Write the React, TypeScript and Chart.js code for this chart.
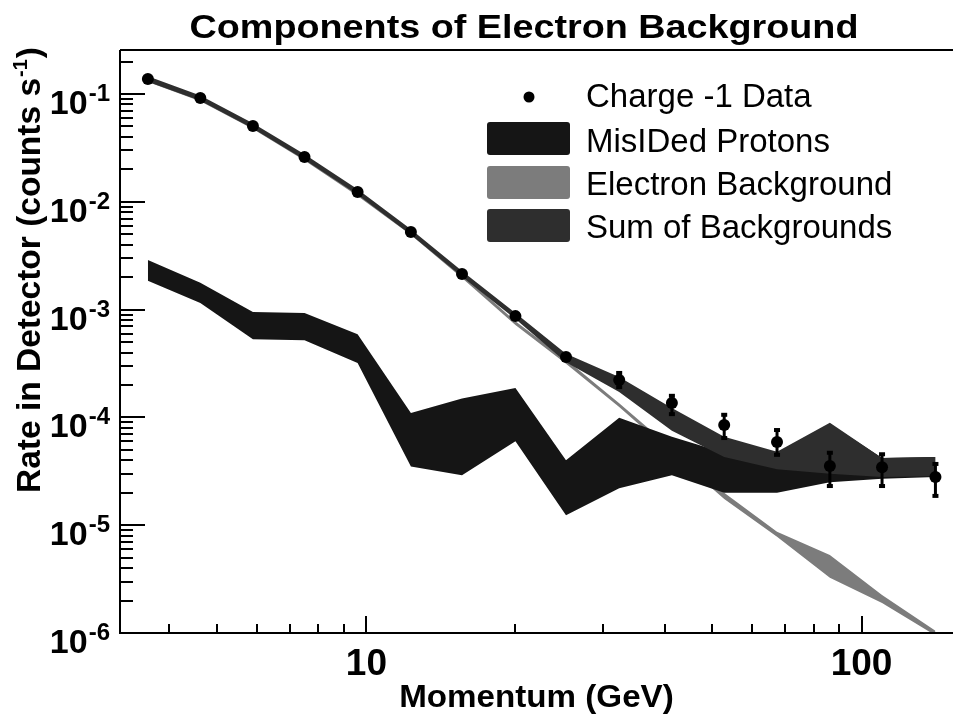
import React, { useEffect, useRef } from "react";
import { Chart, registerables } from "chart.js";

Chart.register(...registerables);

// Momentum bins (GeV)
const MOMENTUM = [3.62, 4.62, 5.9, 7.5, 9.6, 12.3, 15.6, 20.0, 25.3, 32.4, 41.4, 52.8, 67.5, 86.3, 110, 141];

// Charge -1 data (counts/s) and error range
const DATA_RATE = [0.138, 0.0918, 0.0505, 0.026, 0.0123, 0.00525, 0.00214, 8.7e-4, 3.63e-4, 2.22e-4, 1.36e-4, 8.5e-5, 5.9e-5, 3.55e-5, 3.45e-5, 2.8e-5];
const DATA_ERR_LO = [0.134, 0.089, 0.049, 0.0252, 0.0119, 0.0051, 0.00207, 8.3e-4, 3.3e-4, 1.87e-4, 1.05e-4, 6.3e-5, 4.4e-5, 2.26e-5, 2.26e-5, 1.83e-5];
const DATA_ERR_HI = [0.142, 0.0945, 0.052, 0.0268, 0.0127, 0.0054, 0.00222, 9.2e-4, 4.0e-4, 2.64e-4, 1.62e-4, 1.08e-4, 7.8e-5, 4.8e-5, 4.65e-5, 3.78e-5];

// MisIDed protons band
const PROTON_LO = [1.85e-3, 1.15e-3, 5.3e-4, 5.2e-4, 3.2e-4, 3.5e-5, 2.9e-5, 6.0e-5, 1.24e-5, 2.2e-5, 2.9e-5, 2.0e-5, 2.0e-5, 2.5e-5, 2.7e-5, 2.8e-5];
const PROTON_HI = [2.88e-3, 1.77e-3, 9.5e-4, 9.3e-4, 5.9e-4, 1.1e-4, 1.5e-4, 1.87e-4, 4.0e-5, 9.9e-5, 6.6e-5, 4.7e-5, 4.5e-5, 8.7e-5, 4.2e-5, 4.3e-5];

// Electron background band
const ELECTRON_LO = [0.129, 0.0858, 0.0474, 0.0242, 0.0113, 0.00493, 0.00196, 7.2e-4, 3.15e-4, 1.25e-4, 4.65e-5, 1.75e-5, 7.8e-6, 3.25e-6, 1.9e-6, 0.95e-6];
const ELECTRON_HI = [0.141, 0.0945, 0.052, 0.0265, 0.0124, 0.0054, 0.00214, 7.8e-4, 3.45e-4, 1.35e-4, 5.15e-5, 2.0e-5, 8.7e-6, 5.3e-6, 2.25e-6, 1.05e-6];

// Sum of backgrounds band
const SUM_LO = [0.130, 0.0865, 0.0478, 0.0246, 0.0116, 0.00495, 0.00202, 8.2e-4, 3.25e-4, 1.72e-4, 7.5e-5, 4.3e-5, 3.3e-5, 3.0e-5, 2.8e-5, 2.85e-5];
const SUM_HI = [0.146, 0.097, 0.0535, 0.0276, 0.0131, 0.00555, 0.00228, 9.3e-4, 3.9e-4, 2.37e-4, 1.22e-4, 6.6e-5, 4.8e-5, 8.9e-5, 4.2e-5, 4.3e-5];

// Axis labels
const X_TICK_LABELS = [10, 100];
const Y_TICK_EXPONENTS = [-6, -5, -4, -3, -2, -1];
const LEGEND_LABELS = ["Charge -1 Data", "MisIDed Protons", "Electron Background", "Sum of Backgrounds"];
const TITLE = "Components of Electron Background";
const X_TITLE = "Momentum (GeV)";
const Y_TITLE_MAIN = "Rate in Detector (counts s";
const Y_TITLE_SUP = "-1";
const Y_TITLE_END = ")";

const C_PROTON = "#151515";
const C_ELECTRON = "#7c7c7c";
const C_SUM = "#2e2e2e";
const FONT = "'Liberation Sans', Arial, Helvetica, sans-serif";

const pts = (ys: number[]) => MOMENTUM.map((x, i) => ({ x, y: ys[i] }));

function drawText(ctx: CanvasRenderingContext2D, text: string, x: number, y: number, font: string, align: string, sx = 1) {
  ctx.save();
  ctx.font = font;
  ctx.textBaseline = "alphabetic";
  ctx.textAlign = "left";
  const w = ctx.measureText(text).width * sx;
  const left = align === "center" ? x - w / 2 : align === "right" ? x - w : x;
  ctx.translate(left, y);
  ctx.scale(sx, 1);
  ctx.fillText(text, 0, 0);
  ctx.restore();
  return w;
}

const decorPlugin = {
  id: "decor",
  afterDatasetsDraw(chart: any) {
    const ctx: CanvasRenderingContext2D = chart.ctx;
    const xs = chart.scales.x;
    const ys = chart.scales.y;
    // error bars
    ctx.save();
    ctx.fillStyle = "#000";
    ctx.strokeStyle = "#000";
    ctx.lineWidth = 3;
    MOMENTUM.forEach((m, i) => {
      const px = xs.getPixelForValue(m);
      const lo = ys.getPixelForValue(DATA_ERR_LO[i]);
      const hi = ys.getPixelForValue(DATA_ERR_HI[i]);
      ctx.beginPath();
      ctx.moveTo(px, lo);
      ctx.lineTo(px, hi);
      ctx.stroke();
      if (lo - hi > 14) {
        ctx.fillRect(px - 3, hi - 1, 6, 4);
        ctx.fillRect(px - 3, lo - 3, 6, 4);
      }
    });
    ctx.restore();
  },
  afterDraw(chart: any) {
    const ctx: CanvasRenderingContext2D = chart.ctx;
    const { left, right, top, bottom } = chart.chartArea;
    const xs = chart.scales.x;
    const ys = chart.scales.y;
    ctx.save();
    ctx.strokeStyle = "#000";
    ctx.fillStyle = "#000";
    ctx.lineWidth = 2;
    // frame
    ctx.beginPath();
    ctx.moveTo(left, top);
    ctx.lineTo(right, top);
    ctx.moveTo(left, top);
    ctx.lineTo(left, bottom);
    ctx.lineTo(right, bottom);
    ctx.stroke();
    // y ticks
    for (let e = -7; e <= 0; e++) {
      for (let m = 1; m <= 9; m++) {
        const v = m * Math.pow(10, e);
        if (v < ys.min * 0.999 || v > ys.max) continue;
        const py = Math.round(ys.getPixelForValue(v));
        const len = m === 1 ? 25 : 13;
        ctx.beginPath();
        ctx.moveTo(left, py);
        ctx.lineTo(left + len, py);
        ctx.stroke();
      }
    }
    // x ticks
    for (let e = 0; e <= 2; e++) {
      for (let m = 1; m <= 9; m++) {
        const v = m * Math.pow(10, e);
        if (v < xs.min || v > xs.max) continue;
        const px = Math.round(xs.getPixelForValue(v));
        const len = m === 1 ? 17 : 9;
        ctx.beginPath();
        ctx.moveTo(px, bottom);
        ctx.lineTo(px, bottom - len);
        ctx.stroke();
      }
    }
    // y tick labels
    Y_TICK_EXPONENTS.forEach((e) => {
      const py = ys.getPixelForValue(Math.pow(10, e));
      const fs = `bold 24px ${FONT}`;
      ctx.font = fs;
      const sup = String(e);
      const ws = ctx.measureText(sup).width;
      drawText(ctx, sup, 110, py + 7, fs, "right");
      drawText(ctx, "10", 110 - ws - 1, py + 20, `bold 34px ${FONT}`, "right");
    });
    // x tick labels
    X_TICK_LABELS.forEach((v) => {
      const px = xs.getPixelForValue(v);
      drawText(ctx, String(v), px, 675, `bold 37px ${FONT}`, "center");
    });
    // title
    drawText(ctx, TITLE, 524, 38, `bold 34px ${FONT}`, "center", 1.11);
    // x title
    drawText(ctx, X_TITLE, (left + right) / 2, 707, `bold 31px ${FONT}`, "center", 1.07);
    // y title (rotated, aligned to the top end of the axis)
    ctx.save();
    ctx.translate(40, 47);
    ctx.rotate(-Math.PI / 2);
    const fMain = `bold 33.5px ${FONT}`;
    const fSup = `bold 20px ${FONT}`;
    ctx.font = fMain;
    const wM = ctx.measureText(Y_TITLE_MAIN).width;
    const wC = ctx.measureText(Y_TITLE_END).width;
    ctx.font = fSup;
    const wS = ctx.measureText(Y_TITLE_SUP).width;
    const start = -(wM + wS + wC + 2);
    drawText(ctx, Y_TITLE_MAIN, start, 0, fMain, "left");
    drawText(ctx, Y_TITLE_SUP, start + wM + 1, -13, fSup, "left");
    drawText(ctx, Y_TITLE_END, start + wM + wS + 2, 0, fMain, "left");
    ctx.restore();
    // legend
    const lf = `33px ${FONT}`;
    ctx.beginPath();
    ctx.arc(529, 97, 5.5, 0, Math.PI * 2);
    ctx.fill();
    const boxes = [
      { y: 122, c: C_PROTON },
      { y: 166, c: C_ELECTRON },
      { y: 209, c: C_SUM },
    ];
    boxes.forEach((b) => {
      ctx.fillStyle = b.c;
      ctx.beginPath();
      (ctx as any).roundRect(487, b.y, 83, 33, 3);
      ctx.fill();
    });
    ctx.fillStyle = "#000";
    const baselines = [107, 152, 195, 238];
    LEGEND_LABELS.forEach((t, i) => drawText(ctx, t, 586, baselines[i], lf, "left", 1.0));
    ctx.restore();
  },
};

export default function App() {
  const ref = useRef<HTMLCanvasElement | null>(null);
  useEffect(() => {
    if (!ref.current) return;
    const band = (ys: number[], color: string, fill: any, order: number) => ({
      data: pts(ys),
      borderWidth: 0,
      borderColor: "rgba(0,0,0,0)",
      backgroundColor: color,
      pointRadius: 0,
      fill,
      order,
      tension: 0,
    });
    const chart = new Chart(ref.current, {
      type: "line",
      data: {
        datasets: [
          {
            label: LEGEND_LABELS[0],
            data: pts(DATA_RATE),
            showLine: false,
            pointRadius: 6,
            pointBackgroundColor: "#000",
            pointBorderWidth: 0,
            borderColor: "#000",
            order: 0,
          } as any,
          band(SUM_LO, C_SUM, false, 1),
          band(SUM_HI, C_SUM, 1, 1),
          band(PROTON_LO, C_PROTON, false, 2),
          band(PROTON_HI, C_PROTON, 3, 2),
          band(ELECTRON_LO, C_ELECTRON, false, 3),
          band(ELECTRON_HI, C_ELECTRON, 5, 3),
        ],
      },
      options: {
        responsive: false,
        animation: false,
        devicePixelRatio: 1,
        layout: { padding: { left: 120, top: 50, right: 0, bottom: 84 } },
        plugins: {
          legend: { display: false },
          tooltip: { enabled: false },
          title: { display: false },
        },
        scales: {
          x: { type: "logarithmic", min: 3.18, max: 153, display: false },
          y: { type: "logarithmic", min: 1e-6, max: 0.256, display: false },
        },
      },
      plugins: [decorPlugin],
    });
    return () => chart.destroy();
  }, []);
  return (
    <div style={{ position: "absolute", left: 0, top: 0, width: 959, height: 717, background: "#fff" }}>
      <canvas ref={ref} width={959} height={717} style={{ width: 959, height: 717, display: "block" }} />
    </div>
  );
}
